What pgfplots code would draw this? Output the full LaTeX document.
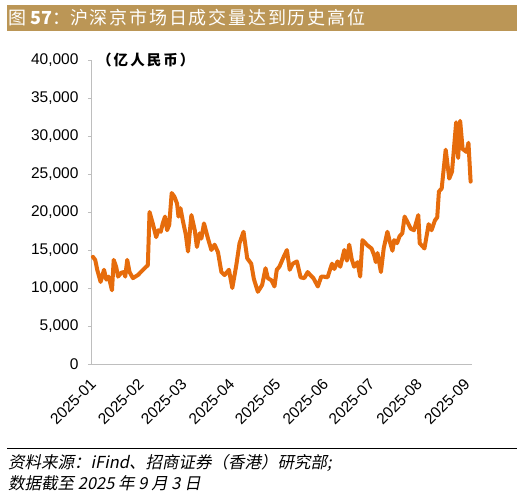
\documentclass[border=0pt]{standalone}
\usepackage{fontspec}
\setmainfont{Liberation Sans}
\newfontfamily\cjk{Noto Sans CJK SC}
\newfontfamily\cjkit{Noto Sans CJK SC}[FakeSlant=0.2]
\usepackage{pgfplots}
\pgfplotsset{compat=1.18}
\definecolor{banner}{RGB}{187,150,86}
\definecolor{lineor}{RGB}{230,108,12}
\definecolor{axgray}{RGB}{190,190,190}
\pgfplotstableread{
d v
0.6 14100
2.1 13700
3.4 12400
5.6 10800
7.8 12400
9.3 11100
10.8 11500
13.0 9700
14.1 13700
15.7 12800
16.9 11500
19.0 12000
20.7 12100
21.6 11500
22.9 13700
24.4 12100
26.6 11300
29.8 11700
35.2 12800
36.3 13000
37.4 20000
39.5 18500
41.7 16700
43.2 17600
44.7 17400
46.0 18500
47.5 19400
48.8 17600
50.2 18300
51.8 22500
53.6 22000
55.3 21100
56.2 19400
57.5 20500
59.0 18900
61.0 17000
62.4 14800
64.6 19600
66.8 17600
68.2 15400
70.0 17200
71.1 16500
72.8 18500
75.4 16500
77.6 15000
79.7 15700
81.9 14700
84.1 12100
86.2 11700
89.0 12400
91.2 10000
93.8 13000
95.9 15900
98.5 17400
100.9 13900
103.5 13200
105.2 11200
107.8 9500
110.6 10400
112.8 12600
114.3 11300
116.7 11000
118.6 10200
120.1 12400
121.8 12800
124.6 14100
126.7 15000
128.5 12400
130.5 13200
133.2 13500
135.6 11400
138.0 11300
140.2 12100
141.9 11700
143.9 11300
146.8 10200
149.0 11500
150.6 11500
153.1 11400
156.0 13200
157.5 12500
159.6 13500
161.4 12800
164.0 15000
165.7 13600
167.2 15700
168.8 13800
170.4 12800
172.6 13400
174.3 11500
175.8 16300
179.1 15600
181.7 15200
183.4 14300
184.5 13400
185.6 14600
187.8 12100
189.6 15200
192.0 17400
193.6 16100
195.3 14900
196.4 16300
198.3 15900
199.9 16800
201.7 17200
203.2 19400
205.0 18700
207.2 17800
209.3 17600
212.1 19600
213.0 15900
216.1 15200
218.8 18400
220.7 17600
222.9 18900
224.4 19300
225.5 22700
227.3 23100
229.9 28200
232.2 24400
234.0 25300
236.7 31800
238.0 27100
239.3 32000
240.9 28300
243.4 27900
244.7 29100
246.1 24000
}\turnover
\begin{document}
\begin{tikzpicture}[x=1pt,y=1pt]
\useasboundingbox (0,0) rectangle (523,-496);
\fill[banner] (7,-5) rectangle (517,-31);
\node[anchor=west,text=white,inner sep=0pt] at (8,-18) {\fontsize{18}{20}\selectfont\cjk 图 \textbf{57}：\addfontfeature{LetterSpace=10}沪深京市场日成交量达到历史高位};
\node[anchor=west,inner sep=0pt] at (97,-60) {\fontsize{14.5}{16}\selectfont\cjk\bfseries\addfontfeature{LetterSpace=14}（亿人民币）};
\draw[black,line width=1pt] (7,-448) -- (517,-448);
\node[anchor=west,inner sep=0pt] at (8,-463) {\fontsize{16.5}{18}\selectfont\cjkit 资料来源：\textit{iFind}、招商证券（香港）研究部;};
\node[anchor=west,inner sep=0pt] at (8,-483) {\fontsize{16.5}{18}\selectfont\cjkit 数据截至 \textit{2025} 年 \textit{9} 月 \textit{3} 日};
\begin{axis}[
  at={(92pt,-364pt)}, anchor=south west,
  scale only axis, width=380pt, height=304pt,
  xmin=0, xmax=247, ymin=0, ymax=40000,
  axis lines*=left,
  axis line style={axgray, line width=1pt},
  ytick={0,5000,...,40000},
  scaled y ticks=false,
  /pgf/number format/1000 sep={,},
  /pgf/number format/assume math mode=true,
  ytick style={axgray, line width=1pt},
  tick align=outside,
  major tick length=4pt,
  xtick={0,31,59,90,120,151,181,212,243},
  xticklabels={2025-01,2025-02,2025-03,2025-04,2025-05,2025-06,2025-07,2025-08,2025-09},
  xtick style={draw=none},
  tick label style={font=\fontsize{15.5}{17}\selectfont},
  xticklabel style={xshift=2pt, yshift=-13pt, rotate=45, anchor=east, inner sep=1pt},
  yticklabel style={xshift=-6pt},
  clip=false,
]
\addplot[lineor, line width=4pt, line join=round, line cap=round] table[x=d,y=v] {\turnover};
\end{axis}
\end{tikzpicture}
\end{document}
